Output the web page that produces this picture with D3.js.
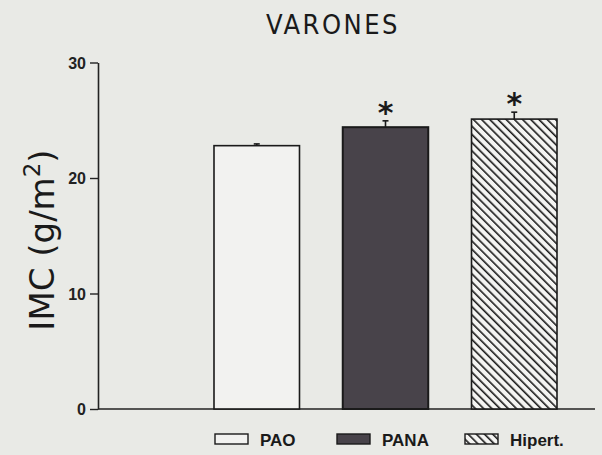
<!DOCTYPE html>
<html><head><meta charset="utf-8">
<script src="https://cdn.jsdelivr.net/npm/d3@7"></script>
<style>
html,body{margin:0;padding:0;background:#e9eae6;}
svg{display:block;}
</style></head>
<body>
<script>
const title = "VARONES";
const yLabel = "IMC (g/m";
const categories = ["PAO", "PANA", "Hipert."];
const means = [22.8, 24.4, 25.1];
const errors = [0.15, 0.55, 0.6];
const significant = [false, true, true];
const yTicks = [0, 10, 20, 30];
const legendLabels = ["PAO", "PANA", "Hipert."];

const W = 602, H = 455;
const svg = d3.select("body").append("svg").attr("width", W).attr("height", H);
const defs = svg.append("defs");
const pat = defs.append("pattern").attr("id", "hatch").attr("patternUnits", "userSpaceOnUse")
  .attr("width", 5.8).attr("height", 5.8).attr("patternTransform", "rotate(-45)");
pat.append("rect").attr("width", 5.8).attr("height", 5.8).attr("fill", "#f4f4f2");
pat.append("line").attr("x1", 0).attr("y1", 0).attr("x2", 0).attr("y2", 5.8)
  .attr("stroke", "#1a1a1a").attr("stroke-width", 3.2);

const fills = ["#f2f2f0", "#48434a", "url(#hatch)"];

const y = d3.scaleLinear().domain([0, 30]).range([409, 62.5]);
const x = d3.scaleBand().domain(categories).range([214, 557]).paddingInner(0.336).paddingOuter(0);

// axes
const yAxis = d3.axisLeft(y).tickValues(yTicks).tickSize(8).tickSizeOuter(0);
const gy = svg.append("g").attr("transform", "translate(98,0)").call(yAxis);
gy.select(".domain").attr("stroke", "#222").attr("stroke-width", 1.6);
gy.selectAll(".tick line").attr("stroke", "#222").attr("stroke-width", 1.4);
gy.selectAll(".tick text").attr("font-family", "Liberation Sans, Arial, sans-serif").attr("font-size", 16)
  .attr("font-weight", "bold").attr("fill", "#222").attr("x", -12).attr("dy", "0.35em");

svg.append("line").attr("x1", 98).attr("x2", 595).attr("y1", y(0)).attr("y2", y(0))
  .attr("stroke", "#222").attr("stroke-width", 1.6);

// bars
const bars = svg.append("g");
categories.forEach((c, i) => {
  bars.append("rect").attr("x", x(c)).attr("y", y(means[i]))
    .attr("width", x.bandwidth()).attr("height", y(0) - y(means[i]))
    .attr("fill", fills[i]).attr("stroke", "#1a1a1a").attr("stroke-width", i === 1 ? 2 : 1.6);
  const cx = x(c) + x.bandwidth() / 2;
  bars.append("line").attr("x1", cx).attr("x2", cx).attr("y1", y(means[i])).attr("y2", y(means[i] + errors[i]))
    .attr("stroke", "#1a1a1a").attr("stroke-width", 1.6);
  bars.append("line").attr("x1", cx - 3).attr("x2", cx + 3).attr("y1", y(means[i] + errors[i])).attr("y2", y(means[i] + errors[i]))
    .attr("stroke", "#1a1a1a").attr("stroke-width", 1.6);
  if (significant[i]) {
    bars.append("text").attr("x", cx).attr("y", y(means[i] + errors[i]) + 2)
      .attr("text-anchor", "middle").attr("font-family", "DejaVu Sans, sans-serif")
      .attr("font-size", 30).attr("font-weight", "bold").attr("fill", "#1a1a1a").text("*");
  }
});

// title
svg.append("text").attr("x", 333).attr("y", 34).attr("text-anchor", "middle")
  .attr("font-family", "DejaVu Sans Condensed, DejaVu Sans, sans-serif").attr("font-size", 27)
  .attr("fill", "#1a1a1a").attr("letter-spacing", 2.5).text(title);

// y label
const yl = svg.append("text").attr("transform", "translate(54,240) rotate(-90)")
  .attr("text-anchor", "middle").attr("font-family", "DejaVu Sans, sans-serif")
  .attr("font-size", 34).attr("fill", "#1a1a1a");
yl.append("tspan").text(yLabel);
yl.append("tspan").attr("font-size", 23).attr("dy", -14).text("2");
yl.append("tspan").attr("dy", 14).text(")");

// legend
const legX = [215, 337, 465];
legendLabels.forEach((l, i) => {
  svg.append("rect").attr("x", legX[i]).attr("y", 434).attr("width", 33).attr("height", 10)
    .attr("fill", fills[i]).attr("stroke", "#1a1a1a").attr("stroke-width", 1.4);
  svg.append("text").attr("x", legX[i] + 45).attr("y", 446)
    .attr("font-family", "Liberation Sans, Arial, sans-serif").attr("font-size", 17).attr("font-weight", "bold")
    .attr("fill", "#1a1a1a").text(l);
});
</script>
</body></html>
